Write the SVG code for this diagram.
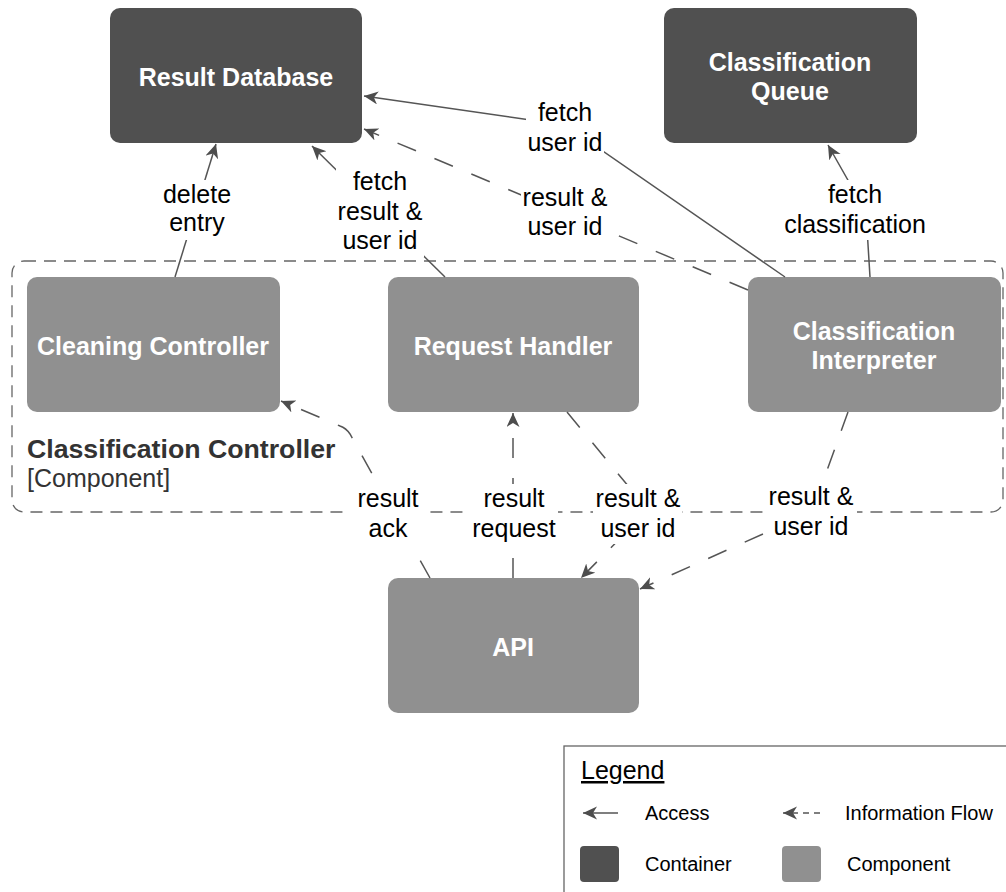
<svg xmlns="http://www.w3.org/2000/svg" width="1006" height="892" viewBox="0 0 1006 892">
  <style>
    text { font-family: "Liberation Sans", Arial, sans-serif; }
    .container { fill: #505050; }
    .component { fill: #909090; }
    .name { fill: #ffffff; font-size: 25px; font-weight: bold; text-anchor: middle; }
    .boundary { fill: none; stroke: #666666; stroke-width: 1.3; stroke-dasharray: 12 8; }
    .access { fill: none; stroke: #555555; stroke-width: 1.5; marker-end: url(#arrow); }
    .flow { fill: none; stroke: #555555; stroke-width: 1.5; stroke-dasharray: 20 20; marker-end: url(#arrow); }
    .lbl { font-size: 25px; fill: #000000; text-anchor: middle; }
    .lblbg { fill: #ffffff; }
    .leg { font-size: 20px; fill: #000000; }
  </style>
  <defs>
    <marker id="arrow" markerUnits="userSpaceOnUse" markerWidth="15" markerHeight="14" refX="14" refY="6.5" orient="auto">
      <path d="M14,6.5 L0,0 L4,6.5 L0,13 Z" fill="#4d4d4d"/>
    </marker>
  </defs>

  <rect width="1006" height="892" fill="#ffffff"/>

  <!-- Component boundary -->
  <g id="classification-controller">
    <rect class="boundary" x="12" y="261" width="991" height="251" rx="12"/>
    <text x="27" y="458" font-size="26.7" font-weight="bold" fill="#333333">Classification Controller</text>
    <text x="27" y="487" font-size="25" fill="#333333">[Component]</text>
  </g>

  <!-- Containers -->
  <g id="result-database">
    <rect class="container" x="110" y="8" width="252" height="135" rx="10"/>
    <text class="name" x="236" y="86">Result Database</text>
  </g>
  <g id="classification-queue">
    <rect class="container" x="664" y="8" width="253" height="135" rx="10"/>
    <text class="name" x="790" y="71">Classification</text>
    <text class="name" x="790" y="100">Queue</text>
  </g>

  <!-- Components -->
  <g id="cleaning-controller">
    <rect class="component" x="27" y="277" width="253" height="135" rx="10"/>
    <text class="name" x="153" y="355">Cleaning Controller</text>
  </g>
  <g id="request-handler">
    <rect class="component" x="388" y="277" width="251" height="135" rx="10"/>
    <text class="name" x="513" y="355">Request Handler</text>
  </g>
  <g id="classification-interpreter">
    <rect class="component" x="748" y="277" width="253" height="135" rx="10"/>
    <text class="name" x="874" y="340">Classification</text>
    <text class="name" x="874" y="369">Interpreter</text>
  </g>
  <g id="api">
    <rect class="component" x="388" y="578" width="251" height="135" rx="10"/>
    <text class="name" x="513" y="656">API</text>
  </g>

  <!-- Connectors -->
  <g id="connectors">
    <!-- access -->
    <path class="access" d="M175,277 L216,144"/>
    <path class="access" d="M445,277 L312,146"/>
    <path class="access" d="M785,277 L565,125 L364,96"/>
    <path class="access" d="M870,277 L866,212 L828,145"/>
    <!-- information flow -->
    <path class="flow" d="M748,290 L364,129"/>
    <path class="flow" d="M430,578 L350,434 Q346,428 340,426 L281,401"/>
    <path class="flow" d="M513,578 L513,413"/>
    <path class="flow" d="M567,412 L648,510 L581,578"/>
    <path class="flow" d="M848,412 L812,512 L640,589"/>

    <!-- labels -->
    <rect class="lblbg" x="162" y="180" width="70" height="60"/>
    <text class="lbl" x="197" y="203">delete</text>
    <text class="lbl" x="197" y="231">entry</text>

    <rect class="lblbg" x="336" y="167" width="88" height="90"/>
    <text class="lbl" x="380" y="190">fetch</text>
    <text class="lbl" x="380" y="220">result &amp;</text>
    <text class="lbl" x="380" y="249">user id</text>

    <rect class="lblbg" x="526" y="98" width="78" height="60"/>
    <text class="lbl" x="565" y="121">fetch</text>
    <text class="lbl" x="565" y="151">user id</text>

    <rect class="lblbg" x="521" y="183" width="88" height="60"/>
    <text class="lbl" x="565" y="206">result &amp;</text>
    <text class="lbl" x="565" y="235">user id</text>

    <rect class="lblbg" x="783" y="180" width="145" height="60"/>
    <text class="lbl" x="855" y="203">fetch</text>
    <text class="lbl" x="855" y="233">classification</text>

    <rect class="lblbg" x="347" y="484" width="83" height="60"/>
    <text class="lbl" x="388" y="507">result</text>
    <text class="lbl" x="388" y="537">ack</text>

    <rect class="lblbg" x="470" y="484" width="88" height="60"/>
    <text class="lbl" x="514" y="507">result</text>
    <text class="lbl" x="514" y="537">request</text>

    <rect class="lblbg" x="593" y="484" width="89" height="60"/>
    <text class="lbl" x="638" y="507">result &amp;</text>
    <text class="lbl" x="638" y="537">user id</text>

    <rect class="lblbg" x="766" y="482" width="91" height="60"/>
    <text class="lbl" x="811" y="505">result &amp;</text>
    <text class="lbl" x="811" y="535">user id</text>
  </g>

  <!-- Legend -->
  <g id="legend">
    <rect x="564" y="746" width="460" height="160" fill="#ffffff" stroke="#666666" stroke-width="1.3"/>
    <text x="581" y="779" font-size="25" text-decoration="underline">Legend</text>
    <path d="M618,813 L583,813" fill="none" stroke="#555555" stroke-width="1.5" marker-end="url(#arrow)"/>
    <text class="leg" x="645" y="820">Access</text>
    <path d="M820,813 L783,813" fill="none" stroke="#555555" stroke-width="1.5" stroke-dasharray="6 5" marker-end="url(#arrow)"/>
    <text class="leg" x="845" y="820">Information Flow</text>
    <rect class="container" x="580" y="846" width="39" height="36" rx="4"/>
    <text class="leg" x="645" y="871">Container</text>
    <rect class="component" x="782" y="846" width="39" height="36" rx="4"/>
    <text class="leg" x="847" y="871">Component</text>
  </g>
</svg>
